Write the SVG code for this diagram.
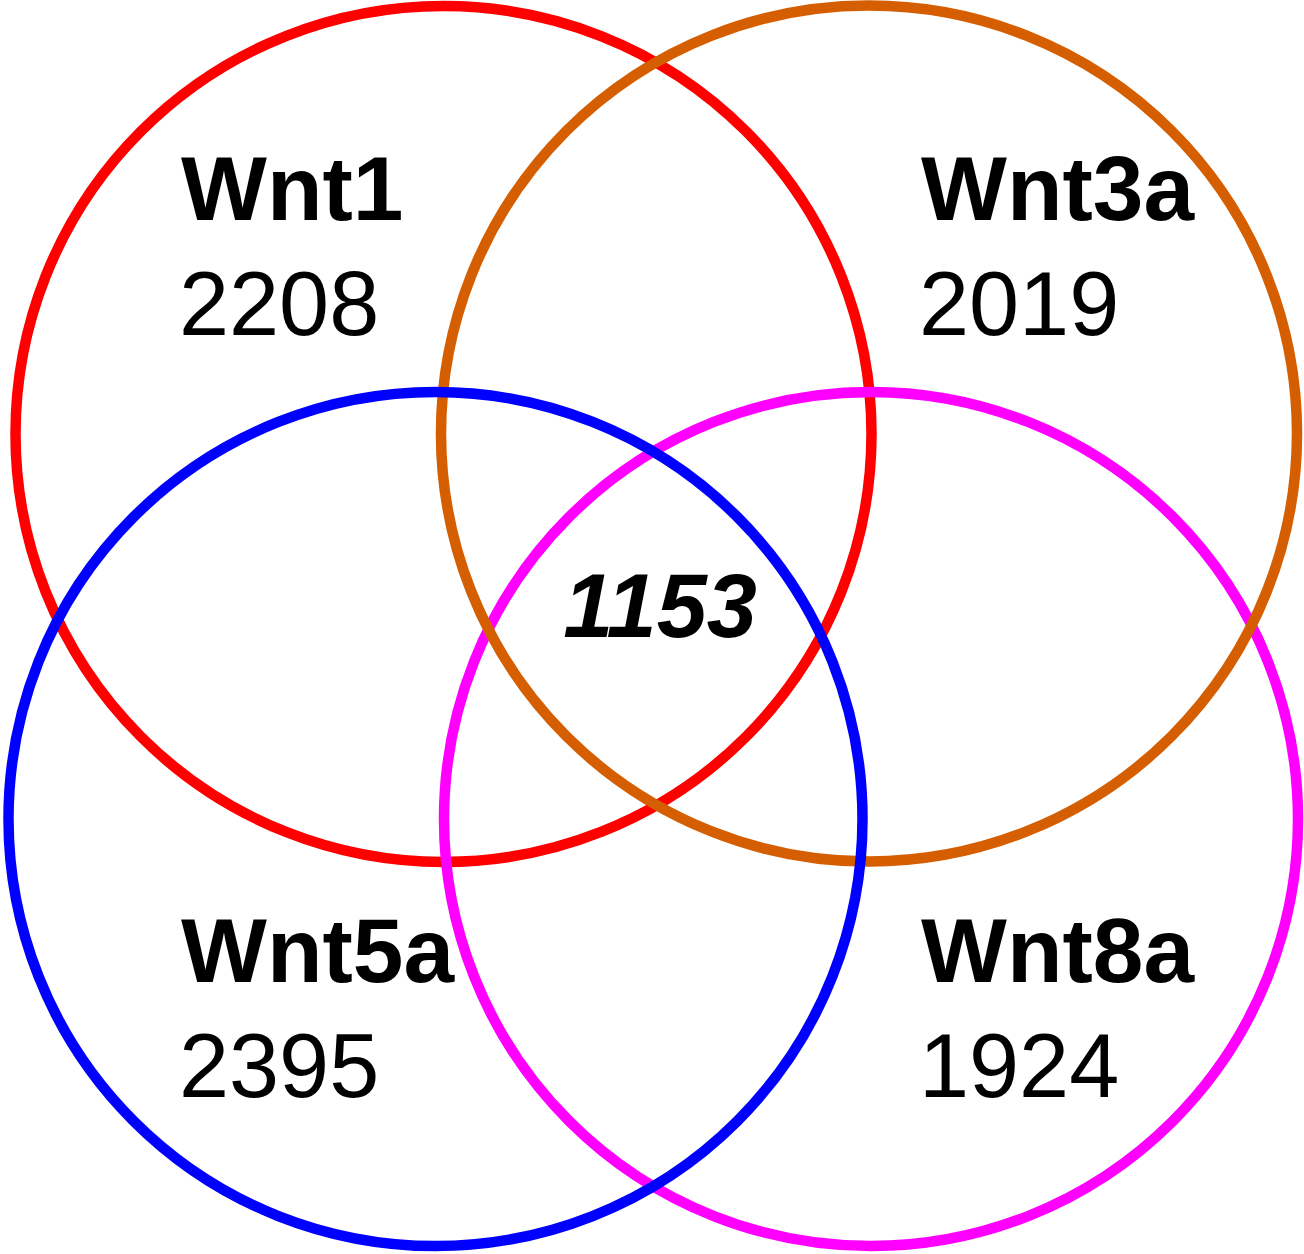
<svg xmlns="http://www.w3.org/2000/svg" width="1304" height="1254" viewBox="0 0 1304 1254">
<style>
.c{fill:none;stroke-width:10.5}
.lab{font-family:"Liberation Sans",Arial,Helvetica,sans-serif;font-size:91px;font-weight:bold;fill:#000}
.num{font-family:"Liberation Sans",Arial,Helvetica,sans-serif;font-size:90px;fill:#000}
.ctr{font-family:"Liberation Sans",Arial,Helvetica,sans-serif;font-size:90px;font-weight:bold;font-style:italic;fill:#000}
</style>
<rect width="1304" height="1254" fill="#fff"/>
<g id="sets">
<circle id="wnt1-circle" class="c" cx="443.5" cy="434" r="428" stroke="#ff0000"/>
<circle id="wnt8a-circle" class="c" cx="871" cy="819" r="427" stroke="#ff00ff"/>
<circle id="wnt3a-circle" class="c" cx="869" cy="433.5" r="428" stroke="#d55e00"/>
<circle id="wnt5a-circle" class="c" cx="435.5" cy="819" r="427" stroke="#0000ff"/>
</g>
<g id="wnt1">
<text class="lab" x="181" y="220">Wnt1</text>
<text class="num" x="179" y="335">2208</text>
</g>
<g id="wnt3a">
<text class="lab" x="921" y="220">Wnt3a</text>
<text class="num" x="919" y="335">2019</text>
</g>
<g id="wnt5a">
<text class="lab" x="181" y="982">Wnt5a</text>
<text class="num" x="179" y="1097">2395</text>
</g>
<g id="wnt8a">
<text class="lab" x="921" y="982">Wnt8a</text>
<text class="num" x="919" y="1097">1924</text>
</g>
<g id="all">
<text class="ctr" x="660" y="637" text-anchor="middle">1153</text>
</g>
</svg>
